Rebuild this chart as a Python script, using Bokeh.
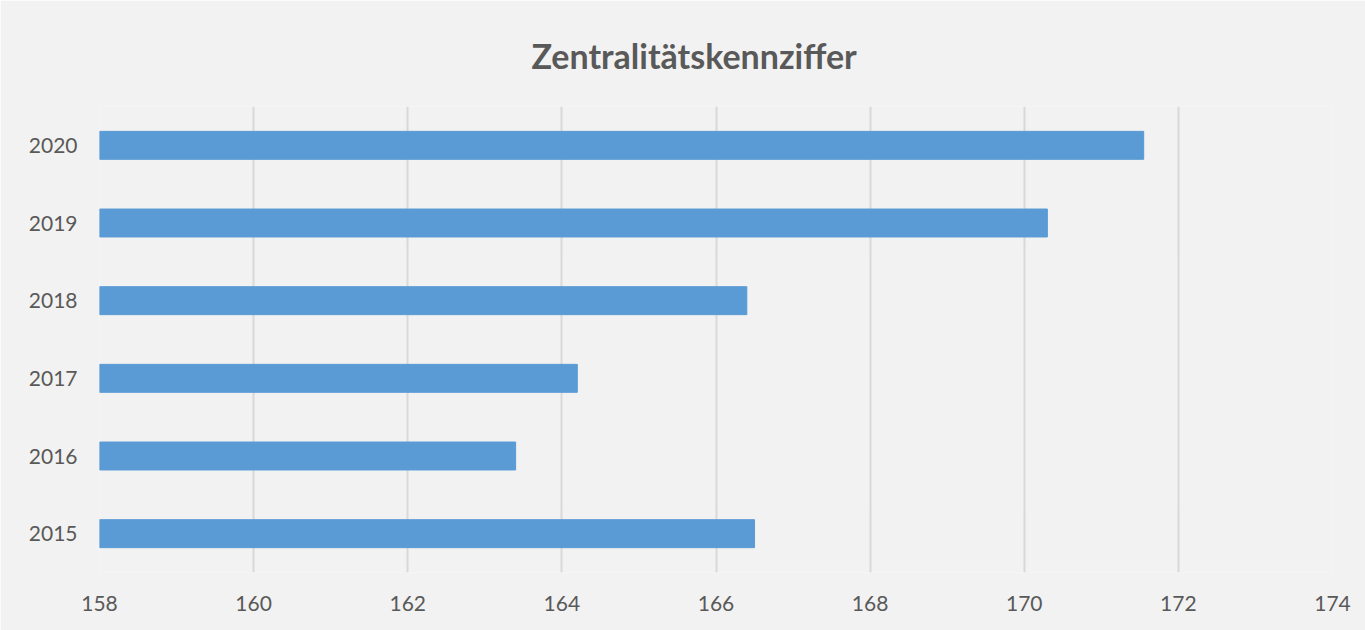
from bokeh.plotting import figure
from bokeh.models import Range1d, FactorRange, FixedTicker
from bokeh.embed import file_html
from bokeh.resources import INLINE

years = ["2015", "2016", "2017", "2018", "2019", "2020"]
values = [166.5, 163.4, 164.2, 166.4, 170.3, 171.55]
x_ticks = [158, 160, 162, 164, 166, 168, 170, 172, 174]
title_text = "Zentralitätskennziffer"

BG = "#f2f2f2"
TXT = "#595959"

p = figure(width=1365, height=630, output_backend="svg", toolbar_location=None,
           y_range=FactorRange(factors=years, range_padding=0),
           x_range=Range1d(158, 174),
           min_border_left=99, min_border_right=33,
           min_border_top=106, min_border_bottom=58)

p.hbar(y=years, left=x_ticks[0], right=values, height=0.36, color="#5b9bd5")

p.title.text = title_text
p.title.align = "left"
p.title.offset = 432
p.title.standoff = 62
p.title.text_font = "Lato"
p.title.text_font_style = "bold"
p.title.text_font_size = "34px"
p.title.text_color = TXT

p.background_fill_color = BG
p.border_fill_color = BG
p.outline_line_color = None

p.xaxis.ticker = FixedTicker(ticks=x_ticks)
for ax in (p.xaxis, p.yaxis):
    ax.axis_line_color = None
    ax.major_tick_line_color = None
    ax.minor_tick_line_color = None
    ax.major_label_text_font = "Lato"
    ax.major_label_text_font_size = "21px"
    ax.major_label_text_color = TXT
p.xaxis.major_label_standoff = 17
p.yaxis.major_label_standoff = 16

p.xgrid.grid_line_color = "#d9d9d9"
p.xgrid.grid_line_width = 2
p.ygrid.grid_line_color = None

open("out.html", "w").write(file_html(p, INLINE))
